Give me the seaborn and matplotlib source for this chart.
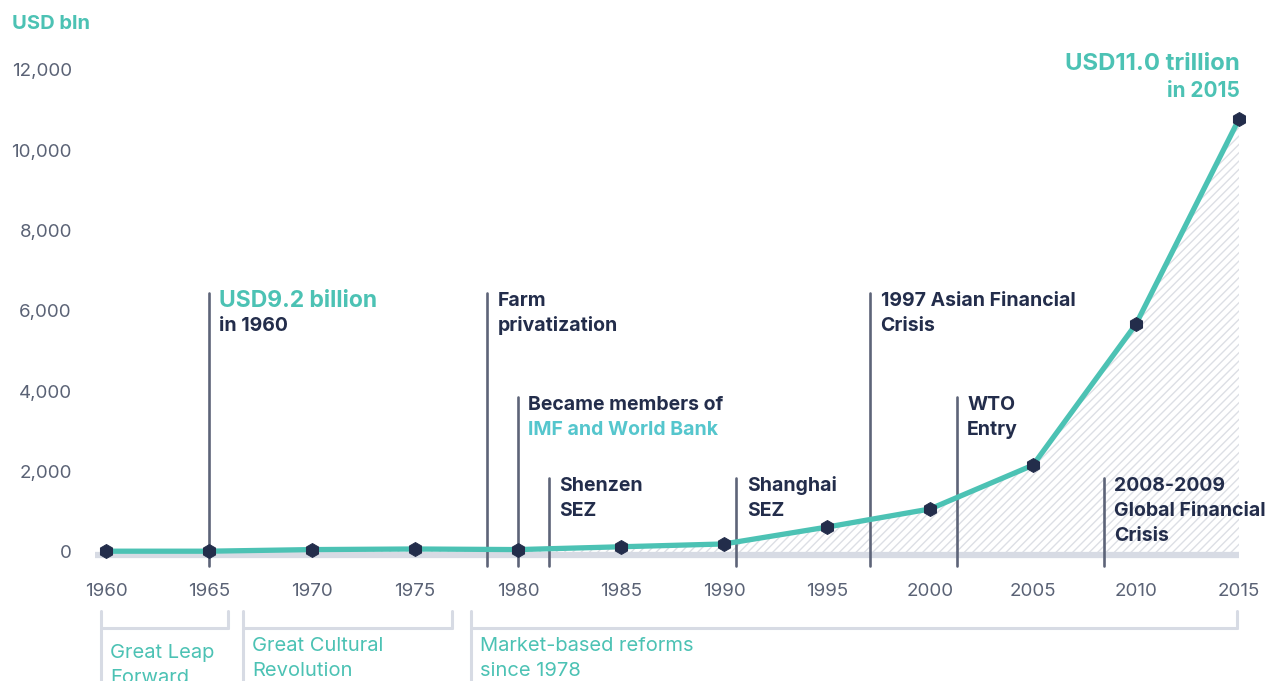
import numpy as np
import pandas as pd
import matplotlib
matplotlib.use('Agg')
import matplotlib.pyplot as plt
import matplotlib.transforms as mtransforms
from matplotlib.lines import Line2D
from matplotlib.ticker import FuncFormatter
import seaborn as sns

# ---------------- data ----------------
years = [1960, 1965, 1970, 1975, 1980, 1985, 1990, 1995, 2000, 2005, 2010, 2015]
gdp_bln = [20, 20, 60, 75, 60, 130, 200, 620, 1070, 2160, 5670, 10770]

# events: (year of line, top of line in USD bln, text lines with colour key)
event_years = [1965, 1978.5, 1980, 1981.5, 1990.6, 1997.1, 2001.3, 2008.45]
event_tops = [6450, 6450, 3850, 1850, 1850, 6450, 3850, 1850]
event_texts = [
    [("USD9.2 billion", 'teal_big'), ("in 1960", 'navy')],
    [("Farm", 'navy'), ("privatization", 'navy')],
    [("Became members of", 'navy'), ("IMF and World Bank", 'cyan')],
    [("Shenzen", 'navy'), ("SEZ", 'navy')],
    [("Shanghai", 'navy'), ("SEZ", 'navy')],
    [("1997 Asian Financial", 'navy'), ("Crisis", 'navy')],
    [("WTO", 'navy'), ("Entry", 'navy')],
    [("2008-2009", 'navy'), ("Global Financial", 'navy'), ("Crisis", 'navy')],
]

periods = ["Great Leap\nForward", "Great Cultural\nRevolution", "Market-based reforms\nsince 1978"]
period_start = [1959.75, 1966.65, 1977.7]
period_end = [1965.9, 1976.8, 2014.9]

TEAL = '#4cc2b4'
CYAN = '#55c6cd'
NAVY = '#232d4b'
VLINE = '#5d6478'
GRAY_TXT = '#5a6275'
LIGHT = '#d7dbe4'

sns.set_style('white')
plt.rcParams['font.family'] = ['Inter', 'DejaVu Sans']
plt.rcParams['hatch.color'] = '#dcdfe5'
plt.rcParams['hatch.linewidth'] = 1.0

W, H = 1275, 681
fig = plt.figure(figsize=(W / 100, H / 100), dpi=100)
# axes in pixel box: x 90..1245, y 40..566
ax = fig.add_axes([90 / W, 1 - 566 / H, (1245 - 90) / W, (566 - 40) / H])

px_per_year = 20.6
x0 = 1960 + (90 - 106) / px_per_year
x1 = 1960 + (1245 - 106) / px_per_year
px_per_bln = 0.0402
y0 = -(566 - 552) / px_per_bln
y1 = (552 - 40) / px_per_bln
ax.set_xlim(x0, x1)
ax.set_ylim(y0, y1)

df = pd.DataFrame({'year': years, 'gdp': gdp_bln})

# hatched area below line
ax.fill_between(df['year'], 0, df['gdp'], facecolor='white', hatch='////',
                edgecolor='#dcdfe5', linewidth=0, zorder=1)
# baseline band
ax.plot([1959.45, 2015], [-75, -75], color=LIGHT, lw=4.5, solid_capstyle='butt', zorder=2)

# event lines
for yr, top in zip(event_years, event_tops):
    ax.plot([yr, yr], [y0, top], color=VLINE, lw=1.9, zorder=3, clip_on=False)

sns.lineplot(data=df, x='year', y='gdp', color=TEAL, lw=3.8, marker='h',
             markersize=10, markerfacecolor=NAVY, markeredgecolor=NAVY,
             ax=ax, zorder=4, legend=False)

# event texts
line_step = 25 / px_per_bln
styles = {
    'navy': dict(color=NAVY, fontsize=14, fontweight='bold'),
    'cyan': dict(color=CYAN, fontsize=14, fontweight='bold'),
    'teal_big': dict(color=TEAL, fontsize=16.5, fontweight='bold'),
}
for yr, top, lines in zip(event_years, event_tops, event_texts):
    for i, (txt, key) in enumerate(lines):
        ax.text(yr + 0.5, top - 200 - i * line_step, txt, ha='left', va='center',
                zorder=5, **styles[key])

ax.text(2015.05, 12150, "USD11.0 trillion", ha='right', va='center', color=TEAL,
        fontsize=17.2, fontweight='bold')
ax.text(2015.05, 11470, "in 2015", ha='right', va='center', color=TEAL,
        fontsize=15, fontweight='bold')

# axes styling
sns.despine(ax=ax, left=True, bottom=True, top=True, right=True)
ax.set_xticks(range(1960, 2016, 5))
ax.set_yticks(range(0, 12001, 2000))
ax.yaxis.set_major_formatter(FuncFormatter(lambda v, p: f'{int(v):,}'))
ax.tick_params(axis='x', length=0, pad=12, labelsize=13.5, labelcolor=GRAY_TXT)
ax.tick_params(axis='y', length=0, pad=13, labelsize=13.5, labelcolor=GRAY_TXT)
ax.set_xlabel('')
ax.set_ylabel('')
ax.grid(False)

fig.text(12 / W, 1 - 24 / H, "USD bln", ha='left', va='center', color=TEAL,
         fontsize=14.5, fontweight='bold')

# period brackets below the axis
tr = mtransforms.blended_transform_factory(ax.transData, fig.transFigure)
fy = lambda py: 1 - py / H
for i, (lab, s, e) in enumerate(zip(periods, period_start, period_end)):
    fig.add_artist(Line2D([s, s], [fy(611), fy(H + 5)], transform=tr, color=LIGHT, lw=2.2))
    fig.add_artist(Line2D([s, e], [fy(628), fy(628)], transform=tr, color=LIGHT, lw=2.2))
    fig.add_artist(Line2D([e, e], [fy(611), fy(628)], transform=tr, color=LIGHT, lw=2.2))
    ty = 653 if i == 0 else 646
    for j, ln in enumerate(lab.split('\n')):
        fig.text(s + 0.45, fy(ty + j * 25), ln, transform=tr, ha='left', va='center',
                 color=TEAL, fontsize=14.5)

fig.savefig('out.png', dpi=100)
